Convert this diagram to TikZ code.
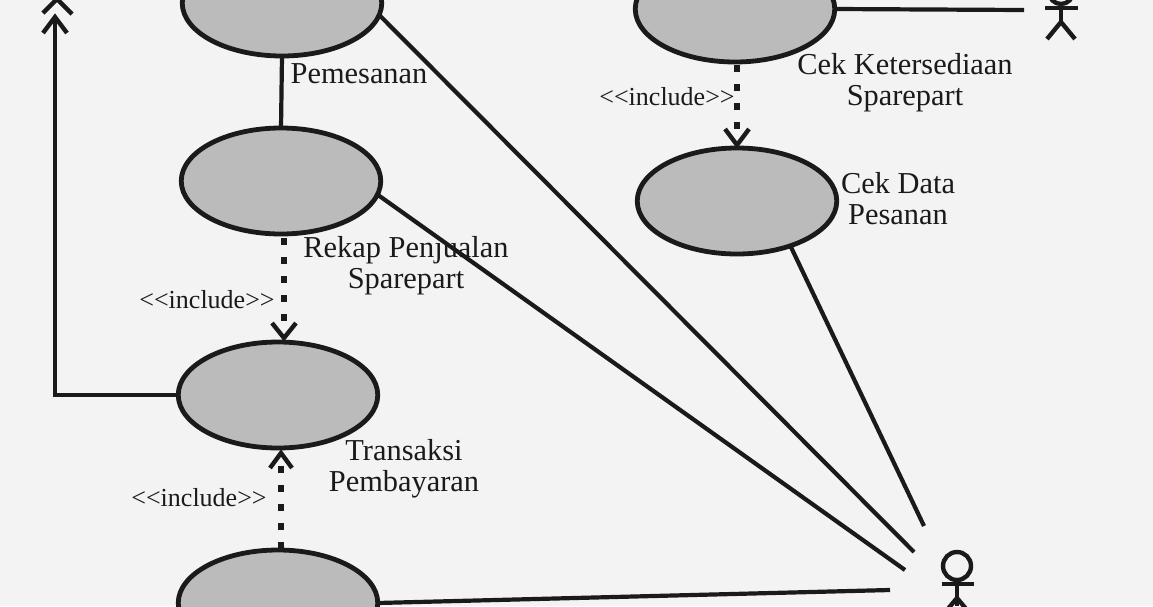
\documentclass[tikz,border=0pt]{standalone}
\usepackage{fontspec}
\setmainfont{Liberation Serif}
\usetikzlibrary{shapes.geometric,arrows.meta}
\definecolor{bg}{HTML}{F3F3F3}
\definecolor{ink}{HTML}{1A1A1A}
\definecolor{uc}{HTML}{BBBBBB}
\tikzset{
  usecase/.style={draw=ink,line width=4.8pt,fill=uc,ellipse,minimum width=199.5pt,minimum height=106pt,inner sep=0pt,outer sep=0pt},
  assoc/.style={draw=ink,line width=4.2pt},
  incl/.style={draw=ink,line width=5.5pt,dash pattern=on 7pt off 12pt},
  chev/.style={draw=ink,line width=4.4pt},
  lbl/.style={text=ink,font=\fontsize{30.4}{31}\selectfont,align=center,inner sep=0pt},
  inc/.style={text=ink,font=\fontsize{26}{27}\selectfont,inner sep=0pt},
  actor/.style={draw=ink,line width=4.4pt}
}
\begin{document}
\begin{tikzpicture}[x=1pt,y=-1pt]
\useasboundingbox (0,0) rectangle (1153,606);
\fill[bg] (0,0) rectangle (1153,606);
\clip (0,0) rectangle (1153,606);
\node[usecase] (e1) at (282,3) {};
\node[usecase] (e2) at (281,181) {};
\node[usecase] (e3) at (278,395) {};
\node[usecase] (e4) at (278,603) {};
\node[usecase] (e5) at (735,9) {};
\node[usecase] (e6) at (737,201) {};
\coordinate (a1) at (914,552);
\coordinate (a2) at (905,570);
\coordinate (a3) at (924,526);
\coordinate (a4) at (890,590);
\coordinate (a5) at (1024,10);
\coordinate (up) at (55,17);
\coordinate (corner) at (55,395);
\draw[assoc] (e1.south) -- (e2.north);
\draw[assoc] (e1.-7) -- (a1);
\draw[assoc] (e2.-8) -- (a2);
\draw[assoc] (e6.-40) -- (a3);
\draw[assoc] (e4.east) -- (a4);
\draw[assoc] (e5.east) -- (a5);
\draw[assoc] (e3.west) -- (corner) -- (up);
\draw[chev] (43,33) -- (up) -- (67,33);
\draw[chev] (43,13) -- (57,-1) -- (72,14);
\draw[incl] (284,238) -- (284,328);
\draw[chev] (272,323) -- (284,338) -- (296,323);
\draw[incl] (281,549) -- (281,464);
\draw[chev] (270,468) -- (281,453) -- (292,468);
\draw[incl] (737,65) -- (737,133);
\draw[chev] (725,129) -- (737,145) -- (749,129);
\draw[actor] (957,566) circle (14);
\draw[actor] (942,584) -- (974,584);
\draw[actor] (957,580) -- (957,606);
\draw[actor] (947,610) -- (957,598) -- (967,610);
\draw[actor] (1061,-8) circle (12);
\draw[actor] (1045,8) -- (1078,8);
\draw[actor] (1061,3) -- (1061,22);
\draw[actor] (1047,39) -- (1061,22) -- (1075,39);
\node[lbl] (t1) at (359,74) {Pemesanan};
\node[lbl] (t2) at (905,83) {Cek Ketersediaan\\Sparepart};
\node[lbl] (t3) at (898,199) {Cek Data\\Pesanan};
\node[lbl] (t4) at (406,266) {Rekap Penjualan\\Sparepart};
\node[lbl] (t5) at (404,469) {Transaksi\\Pembayaran};
\node[inc] (i1) at (667,97) {<{}<include>{}>};
\node[inc] (i2) at (207,300) {<{}<include>{}>};
\node[inc] (i3) at (199,498) {<{}<include>{}>};
\end{tikzpicture}
\end{document}
